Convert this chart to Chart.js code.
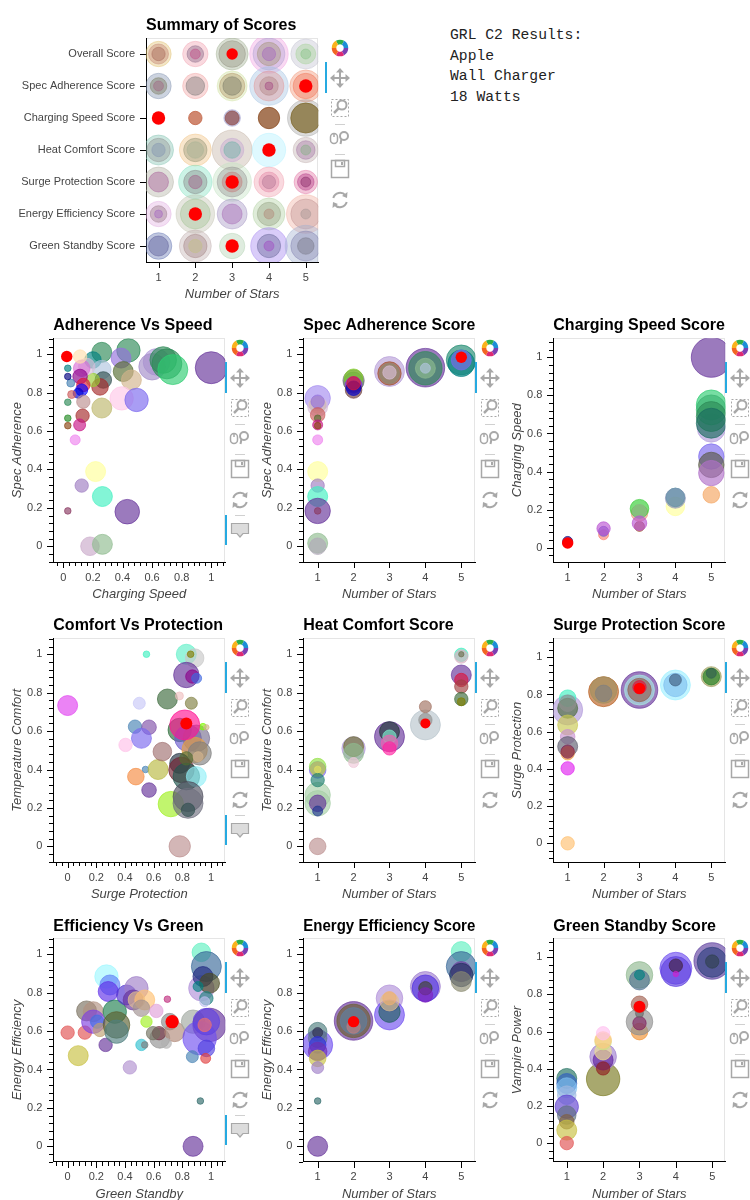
<!DOCTYPE html>
<html><head><meta charset="utf-8">
<script src="https://cdn.jsdelivr.net/npm/chart.js@4.4.1/dist/chart.umd.min.js"></script>
<style>
html,body{margin:0;padding:0;background:#fff;overflow:hidden;}
#page{position:relative;width:750px;height:1200px;overflow:hidden;background:#fff;}
#page canvas{position:absolute;}
#info{position:absolute;left:450px;top:25px;font-family:'Liberation Mono','DejaVu Sans Mono',monospace;font-size:14.7px;line-height:20.6px;color:#222;white-space:pre;}
</style></head><body><div id="page"><div id="info">GRL C2 Results:
Apple
Wall Charger
18 Watts</div></div>
<script>
// ---------------- DATA ----------------
const starTicks = [1, 2, 3, 4, 5];
const unitTicks = [0, 0.2, 0.4, 0.6, 0.8, 1];
const summaryCategories = ['Overall Score', 'Spec Adherence Score', 'Charging Speed Score', 'Heat Comfort Score', 'Surge Protection Score', 'Energy Efficiency Score', 'Green Standby Score'];

// Summary: [stars, category index, size]
const summaryPoints = [
[1,0,12.7],[1,0,10],[1,0,6.7],[2,0,12.7],[2,0,8.3],[2,0,5],[3,0,16],[3,0,13.3],[4,0,19.3],[4,0,16],[4,0,11.7],[4,0,6.7],[5,0,15],[5,0,10],[5,0,5],
[1,1,12.7],[1,1,8.3],[1,1,5],[2,1,12.7],[2,1,9.3],[3,1,15],[3,1,12.7],[3,1,9.3],[4,1,19.3],[4,1,15],[4,1,9.3],[4,1,4],[5,1,16],[5,1,12.7],
[2,2,6.7],[3,2,8.3],[3,2,7],[4,2,10.7],[5,2,18.3],[5,2,15],
[1,3,15],[1,3,11.7],[1,3,6.7],[2,3,16],[2,3,11.7],[2,3,8.3],[3,3,20],[3,3,11.7],[3,3,8.3],[4,3,16.7],[5,3,12.7],[5,3,9.3],[5,3,5],
[1,4,15],[1,4,10],[2,4,16.7],[2,4,11.7],[2,4,6.7],[3,4,19.3],[3,4,15],[3,4,10],[4,4,15],[4,4,10],[4,4,6.7],[5,4,11.7],[5,4,8.3],[5,4,5],
[1,5,12.7],[1,5,8.3],[1,5,4],[2,5,19.3],[2,5,15],[3,5,15],[3,5,10],[4,5,16],[4,5,11.7],[4,5,5],[5,5,19.3],[5,5,15],[5,5,5],
[1,6,13.3],[1,6,10],[2,6,16],[2,6,11.7],[2,6,6.7],[3,6,12.7],[4,6,18.3],[4,6,11.7],[4,6,5],[5,6,20.7],[5,6,15],[5,6,8.3]
];
const summaryColors = [
'#e0c070','#c08070','#a06050','#f0a0b0','#806080','#c04080','#a0b090','#909080','#f0a0e0','#b0a0d0','#a09070','#a060c0','#c0c0d0','#a0d090','#80c080',
'#8090b0','#707050','#a06080','#f0a0a0','#707070','#d0e0a0','#b09060','#707060','#a0c0e0','#e09090','#b08080','#a04080','#f09070','#f07050',
'#c06040c0','#8080c060','#905050c0','#8a4a20c0','#a0a0a060','#806a30c0',
'#80c0b0','#909090','#8090b0','#f0c080','#909070','#a0b090','#c0b0a0','#c0a0d0','#60b0a0','#b0f0ff','#c0b0b0','#a070a0','#80b080',
'#b0b0a0','#a05090','#80e0c0','#808080','#a05080','#c0e0c0','#909090','#c07070','#f0a0b0','#e080a0','#b07090','#e070a0','#b03080','#802060',
'#e0b0e0','#907080','#a060c0','#c0c0b0','#a0c090','#a090c0','#a060b0','#b0d0a0','#90a080','#b08070','#f0b0a0','#c09090','#a09090',
'#6070b0','#505090','#c0b0b0','#a08080','#c0c080','#b0d0b0','#a080f0','#606090','#a040c0','#a0b0d0','#8080b0','#707080'
];
const summaryHighlight = [[3,0,5.7],[5,1,6.7],[1,2,6.7],[4,3,6.7],[3,4,6.7],[2,5,6.7],[3,6,6.7]];

// Adherence vs Speed: [charging speed, spec adherence, size]
const avsPoints = [
[1.0,0.93,16],[0.63,0.96,13.3],[0.60,0.935,13.3],[0.675,0.97,13.3],[0.70,0.95,15],
[0.74,0.92,15],[0.44,1.02,11.7],[0.26,1.01,10],[0.20,0.97,8.3],[0.39,0.98,10],
[0.405,0.91,10],[0.46,0.866,10],[0.26,0.92,9.3],[0.27,0.866,8.3],[0.248,0.83,8.3],
[0.20,0.866,6.7],[0.394,0.77,11.7],[0.495,0.762,11.7],[0.26,0.72,10],[0.158,0.936,8.3],
[0.124,0.927,8.3],[0.113,0.988,6.7],[0.113,0.884,7.3],[0.135,0.84,6.7],[0.124,0.814,6],
[0.10,0.797,5],[0.135,0.753,6.7],[0.13,0.68,6.7],[0.11,0.632,6],[0.08,0.554,5],
[0.056,0.79,4],[0.05,0.85,4],[0.03,0.884,3.3],[0.03,0.927,3.3],[0.03,0.75,3.3],
[0.03,0.667,3.3],[0.03,0.628,3.3],[0.03,0.184,3.3],[0.218,0.389,10],[0.124,0.316,6.7],
[0.264,0.259,10],[0.432,0.18,12.3],[0.18,0,9.3],[0.264,0.01,10]
];
const avsColors = [
'#663399','#b39ddb','#a38cc8','#2e8b57','#2e8b57',
'#2ecc71','#2e8b57','#2e8b57','#008080','#9370db',
'#556b2f','#d2b48c','#b0c4de','#2f4f4f','#a52a2a',
'#9acd32','#ffc8e8','#7b68ee','#bdb76b','#d8bfd8',
'#da70d6','#ffdead','#8b008b','#dc143c','#0000ff',
'#0000cd','#bc8f8f','#a52a2a','#c71585','#ee82ee',
'#cd5c5c','#4682b4','#000080','#008080','#2e8b57',
'#228b22','#8b4513','#8b3a62','#ffff99','#9e7cc1',
'#40f0c0','#663399','#c9a9c9','#8fbc8f'
];
const avsHighlight = [[0.023,0.988,5.7]];

// Spec Adherence Score: [stars, spec adherence, size]
const specPoints = [
[1,0.771,12.7],[1,0.736,8.3],[1,0.727,10],[1,0.753,6.7],[1,0.684,7.3],
[1,0.667,3.3],[1,0.632,5],[1,0.628,3.3],[1,0.554,5],[1,0.389,10],
[1,0.316,6.7],[1,0.259,10],[1,0.184,12.7],[1,0.184,3.3],[1,0.016,10],
[1,0,8.3],[2,0.855,10],[2,0.863,10.7],[2,0.875,9.3],[2,0.84,8.3],
[2,0.814,8.3],[2,0.823,7.3],[2,0.849,6.7],[3,0.91,15],[3,0.9,11.7],
[3,0.9,10],[3,0.905,6.7],[4,0.93,19.3],[4,0.927,16.7],[4,0.927,10],
[4,0.927,5],[5,0.97,15],[5,0.953,13.3],[5,0.97,10]
];
const specColors = [
'#a58cf0','#bdb76b','#d8bfd8','#9370db','#cd5c5c',
'#556b2f','#c71585','#8b4513','#ee82ee','#ffff99',
'#9e7cc1','#40f0c0','#663399','#8b3a62','#8fbc8f',
'#b0a8b8','#2e8b57','#808080','#7ccd20','#8a2be2',
'#6b3a3a','#0000cd','#dc143c','#b9a0d9','#a0522d',
'#8a8a70','#d8bfd8','#663399','#2e8b57','#8fbc8f',
'#b0c4de','#1e8a70','#008080','#7b68ee'
];
const specHighlight = [[5,0.984,5.7]];

// Charging Speed Score: [stars, charging speed, size]
const chargePoints = [
[1,0.033,5],[2,0.068,5],[2,0.086,5],[2,0.101,6.7],[3,0.112,5],
[3,0.182,8.3],[3,0.205,9.3],[3,0.19,7],[3,0.129,7.3],[4,0.217,9.3],
[4,0.264,9.3],[4,0.26,10],[5,1,20],[5,0.628,14],[5,0.75,15],
[5,0.724,15],[5,0.689,15],[5,0.654,15],[5,0.479,12.7],[5,0.435,12.7],
[5,0.392,12.7],[5,0.278,8.3]
];
const chargeColors = [
'#000080','#fa8072','#6a5acd','#ba55d3','#a0522d',
'#e9967a','#32cd32','#8fbc8f','#ba55d3','#ffff99',
'#008080','#8c93b8','#663399','#b39ddb','#2ecc71',
'#3cb371','#2e8b57','#1a6b60','#7b68ee','#5a5a48',
'#b070c8','#f4a460'
];
const chargeHighlight = [[1,0.0245,5.7]];

// Comfort vs Protection: [surge protection, temperature comfort, size]
const cvpPoints = [
[0,0.733,10],[0.5,0.745,6],[0.55,1,3.3],[0.47,0.623,6.7],[0.568,0.62,7.3],
[0.515,0.5625,10],[0.404,0.528,6.7],[0.543,0.4,3.3],[0.476,0.363,8.3],[0.568,0.293,7.3],
[0.631,0.4,10],[0.72,0.22,12.7],[0.782,0,10.7],[0.696,0.767,10],[0.661,0.493,9.3],
[0.828,1,10],[0.886,0.98,9.3],[0.858,1,3.3],[0.828,0.892,12.7],[0.87,0.884,6.7],
[0.9,0.875,5],[0.863,0.745,6],[0.78,0.783,4],[0.782,0.606,11.7],[0.84,0.5625,13.3],
[0.898,0.5625,13.3],[0.886,0.502,12.7],[0.921,0.484,11.7],[0.782,0.432,10],[0.794,0.398,12.7],
[0.828,0.363,13.3],[0.898,0.363,10],[0.84,0.259,15],[0.84,0.224,15],[0.84,0.19,6.7],
[0.944,0.623,3.3],[0.968,0.62,2.7],[0.828,0.458,6.7],[0.91,0.467,5],[0.817,0.632,15]
];
const cvpColors = [
'#e040f0','#c8c8f8','#40f0c0','#4682b4','#8050a8',
'#7b68ee','#ffc0e8','#4682b4','#f48a40','#663399',
'#b8b840','#a0f020','#bc8f8f','#3c6a3c','#a07070',
'#60f0c8','#c8c8c8','#808000','#663399','#8b008b',
'#4169e1','#808040','#f0c0c0','#2e6b3a','#6a5acd',
'#7a7090','#e8a040','#808080','#203040','#702030',
'#205850','#90f0f8','#505060','#707080','#2f4f4f',
'#7cfc00','#d2b48c','#556b2f','#d2b48c','#ff1493'
];
const cvpHighlight = [[0.828,0.64,6]];

// Heat Comfort Score: [stars, temperature comfort, size]
const heatPoints = [
[1,0.267,12.7],[1,0.224,12.7],[1,0.398,8.3],[1,0.415,8.3],[1,0.401,7.3],
[1,0.345,6.7],[1,0.224,8.3],[1,0.184,5],[1,0.4,3.3],[1,0,8.3],
[2,0.51,11.7],[2,0.519,10],[2,0.484,10],[2,0.436,5],[3,0.571,15],
[3,0.597,10],[3,0.571,6.7],[3,0.536,8.3],[3,0.51,6.7],[4,0.632,15],
[4,0.727,6],[4,0.658,6.7],[5,0.997,6.7],[5,0.988,6.7],[5,0.892,10],
[5,0.866,6.7],[5,0.832,6.7],[5,0.767,6.7],[5,0.753,4],[5,1,2.7]
];
const heatColors = [
'#a8d0a8','#a8d0a8','#7b68ee','#90e040','#bdb76b',
'#208070','#663399','#203890','#e0e060','#bc8f8f',
'#b39ddb','#6b6b30','#8fbc8f','#f0c8d8','#663399',
'#203838','#80f0d0','#f060b0','#ff20a0','#b8c4cc',
'#a07060','#909090','#40f0c0','#d8b0c0','#663399',
'#dc143c','#a04040','#3a6a3a','#808000','#707050'
];
const heatHighlight = [[4,0.64,5]];

// Surge Protection Score: [stars, surge protection, size]
const surgePoints = [
[1,0.717,15],[1,0.78,8.3],[1,0.726,10],[1,0.753,8.3],[1,0.636,10],
[1,0.573,7.3],[1,0.52,10],[1,0.484,6.7],[1,0.493,6.7],[1,0.403,6.7],
[1,0,6.7],[2,0.815,15],[2,0.824,13.3],[2,0.806,8.3],[3,0.824,18.3],
[3,0.824,15],[3,0.824,11.7],[3,0.839,6.7],[4,0.851,15],[4,0.851,11.7],
[4,0.878,6],[5,0.896,10],[5,0.896,8.3],[5,0.914,5]
];
const surgeColors = [
'#b39ddb','#40f0c0','#4a6a3a','#909090','#c8c850',
'#c890d0','#606070','#f0a040','#802050','#e020f0',
'#ffc070','#b86020','#a09060','#808080','#663399',
'#a8e8e0','#906050','#dc143c','#a0f0ff','#80c0f0',
'#406080','#a0a060','#208020','#306050'
];
const surgeHighlight = [[3,0.833,5.7]];

// Efficiency vs Green: [green standby, energy efficiency, size]
const evgPoints = [
[0,0.592,6.7],[0.12,0.592,6.7],[0.074,0.472,10],[0.132,0.705,10],[0.179,0.701,10],
[0.179,0.649,11.7],[0.206,0.649,6.7],[0.225,0.606,6.7],[0.265,0.528,6.7],[0.271,0.884,11.7],
[0.295,0.84,10],[0.283,0.806,10],[0.329,0.701,11.7],[0.341,0.632,13.3],[0.341,0.597,11.7],
[0.411,0.788,10],[0.48,0.823,11.7],[0.457,0.762,10],[0.48,0.762,8.3],[0.538,0.762,10],
[0.515,0.719,8.3],[0.619,0.705,6.7],[0.55,0.649,5.7],[0.515,0.528,5.7],[0.538,0.528,3.3],
[0.434,0.411,6.7],[0.696,0.766,3.3],[0.643,0.563,10],[0.638,0.589,6.7],[0.596,0.589,6.7],
[0.712,0.649,8.3],[0.747,0.597,10],[0.689,0.536,5],[0.933,1.01,9.3],[0.933,0.823,12.7],
[0.968,0.936,15],[0.944,0.884,10],[0.99,0.849,10],[0.91,0.832,5],[0.968,0.771,6.7],
[0.956,0.753,5],[0.875,0.649,11.7],[0.99,0.632,16.7],[0.921,0.563,16.7],[0.968,0.649,13.3],
[0.956,0.632,6.7],[0.968,0.51,8.3],[0.87,0.467,6],[0.963,0.458,5],[0.926,0.236,3.3],
[0.875,0,10]
];
const evgColors = [
'#e05050','#e05050','#c8c040','#7a7060','#b09080',
'#8040e0','#4070e0','#c0a070','#663399','#a0f8ff',
'#6080f8','#6030e8','#208050','#5a6030','#508080',
'#5030d0','#a080c8','#663399','#e0c090','#ffc070',
'#a09090','#e0a0d8','#a0f020','#30c0d0','#808080',
'#b090d0','#c03080','#909090','#703040','#707060',
'#8a8a8a','#b08878','#b0b0b0','#60f0c0','#b090d8',
'#3a6a9a','#202880','#4a4a20','#008080','#208080',
'#c0c0f0','#a0a8a0','#663399','#7050f0','#6040e0',
'#f07070','#5040e0','#4682b4','#e04040','#306a6a',
'#663399'
];
const evgHighlight = [[0.729,0.649,6.7]];

// Energy Efficiency Score: [stars, energy efficiency, size]
const energyPoints = [
[1,0.528,15],[1,0.597,9.3],[1,0.5625,9.3],[1,0.592,5],[1,0.528,8.3],
[1,0.493,9.3],[1,0.458,8.3],[1,0.41,6],[1,0.236,3.3],[1,0,10],
[2,0.653,19.3],[2,0.653,16.7],[2,0.653,13.3],[2,0.623,6.7],[3,0.771,13.3],
[3,0.684,15],[3,0.701,10.7],[3,0.753,9.3],[3,0.771,6.7],[4,0.832,15],
[4,0.823,13.3],[4,0.823,6.7],[4,0.788,7.3],[5,1.014,10],[5,0.936,15],
[5,0.91,10],[5,0.892,11.7],[5,0.858,10]
];
const energyColors = [
'#7050f0','#508080','#607090','#303050','#3030e0',
'#7030b0','#c8c040','#a080c8','#306a6a','#663399',
'#663399','#6a6030','#6080a0','#c08080','#b090d8',
'#7050f0','#206060','#e0c090','#f0b070','#a080d0',
'#5030e0','#404030','#8020c0','#60f0c0','#3a6a9a',
'#7040a0','#203060','#8a8a70'
];
const energyHighlight = [[2,0.649,5.7]];

// Green Standby Score: [stars, vampire power, size]
const greenPoints = [
[1,0.348,10],[1,0.321,10],[1,0.298,10],[1,0.258,9.3],[1,0.196,11.7],
[1,0.151,9.3],[1,0.115,7.3],[1,0.07,10],[1,0,6.7],[2,0.345,16.7],
[2,0.465,13.3],[2,0.447,10],[2,0.402,6.7],[2,0.492,8.3],[2,0.546,8.3],
[2,0.555,8.3],[2,0.591,6.7],[3,0.905,13.3],[3,0.878,10],[3,0.905,5],
[3,0.6,8.3],[3,0.653,13.3],[3,0.645,6.7],[3,0.698,4],[3,0.747,8.3],
[4,0.941,16],[4,0.923,15],[4,0.955,6.7],[4,0.91,2.7],[5,0.98,18.3],
[5,0.973,15],[5,0.977,6.7]
];
const greenColors = [
'#207060','#3060c0','#80c0f0','#a0b8e0','#6040d0',
'#607080','#806040','#c8c040','#e05050','#7a7a20',
'#a080d0','#6020a0','#902020','#f0e090','#d0e080',
'#ffc880','#ffc0f0','#90b890','#507090','#008080',
'#f09030','#909090','#802060','#696969','#a06050',
'#7050f0','#6040e0','#402040','#d020d0','#6040a0',
'#304080','#304050'
];
const greenHighlight = [[3,0.734,6]];

// ---------------- RENDERING ----------------
const FONT = "'Liberation Sans', Arial, Helvetica, sans-serif";
const page = document.getElementById('page');

function withAlpha(c, a) {
  if (c.length === 9) return c;
  const r = parseInt(c.slice(1, 3), 16), g = parseInt(c.slice(3, 5), 16), b = parseInt(c.slice(5, 7), 16);
  return `rgba(${r},${g},${b},${a})`;
}
function fmt(v) { return Number.isInteger(v) ? String(v) : String(+v.toFixed(2)); }
function minorTicks(major, min, max) {
  const step = (major[1] - major[0]) / 5, out = [];
  const start = Math.ceil((min - major[0]) / step - 1e-9);
  for (let k = start; major[0] + k * step <= max + 1e-9; k++) {
    if (Math.abs(k % 5) !== 0) out.push(major[0] + k * step);
  }
  return out;
}

const frame = {
  id: 'frame',
  beforeDraw(chart) {
    const {ctx, chartArea: a} = chart;
    ctx.save(); ctx.strokeStyle = '#e5e5e5'; ctx.lineWidth = 1;
    ctx.strokeRect(Math.round(a.left) + 0.5, Math.round(a.top) + 0.5, Math.round(a.right - a.left) - 1, Math.round(a.bottom - a.top));
    ctx.restore();
  }
};
const axisTicks = {
  id: 'axisTicks',
  afterDraw(chart, args, o) {
    const {ctx, chartArea: a, scales} = chart;
    const xs = scales.x, ys = scales.y;
    const X = v => Math.round(xs.getPixelForValue(v)) + 0.5;
    const Y = v => Math.round(ys.getPixelForValue(v)) + 0.5;
    const b = Math.round(a.bottom), l = Math.round(a.left);
    ctx.save(); ctx.strokeStyle = '#000'; ctx.lineWidth = 1; ctx.beginPath();
    xs.ticks.forEach(t => { const p = X(t.value); ctx.moveTo(p, b); ctx.lineTo(p, b + 6); });
    (o.xMinor || []).forEach(v => { const p = X(v); ctx.moveTo(p, b); ctx.lineTo(p, b + 4); });
    ys.ticks.forEach(t => { const p = Y(t.value); ctx.moveTo(l, p); ctx.lineTo(l - 6, p); });
    (o.yMinor || []).forEach(v => { const p = Y(v); ctx.moveTo(l, p); ctx.lineTo(l - 4, p); });
    ctx.stroke(); ctx.restore();
  }
};

function toolbar(cx, top, barX, hover) {
  const g = '#a8a8a8', sep = '#d0d0d0';
  const logoColors = ['#2eb04b', '#1c8fd6', '#7b3fb3', '#de2a74', '#f26522', '#f9b21c'];
  let h = '';
  for (let i = 0; i < 6; i++) {
    const a0 = (i * 60 - 120) * Math.PI / 180, a1 = ((i + 1) * 60 - 120) * Math.PI / 180, r = 6;
    h += `<path d="M${15 + r * Math.cos(a0)} ${10 + r * Math.sin(a0)} A${r} ${r} 0 0 1 ${15 + r * Math.cos(a1)} ${10 + r * Math.sin(a1)}" stroke="${logoColors[i]}" stroke-width="4.5" fill="none"/>`;
  }
  h += `<path d="M15 32 V48 M7 40 H23" stroke="${g}" stroke-width="2" fill="none"/>`;
  h += `<path d="M15 30 l-4 4.5 h8z M15 50 l-4 -4.5 h8z M5 40 l4.5 -4 v8z M25 40 l-4.5 -4 v8z" fill="${g}"/>`;
  h += `<rect x="6.5" y="61.5" width="17" height="17" stroke="${g}" stroke-dasharray="2 2" fill="none"/>`;
  h += `<circle cx="17" cy="67" r="4.5" stroke="${g}" stroke-width="2" fill="none"/><path d="M13.8 70.2 L9 75" stroke="${g}" stroke-width="2.5"/>`;
  h += `<path d="M10 86.5 H20" stroke="${sep}"/>`;
  h += `<rect x="5.5" y="95.5" width="7" height="10" rx="3.5" stroke="${g}" stroke-width="1.5" fill="none"/><path d="M9 96 V99" stroke="${g}" stroke-width="1.5"/>`;
  h += `<circle cx="19" cy="98" r="4" stroke="${g}" stroke-width="2" fill="none"/><path d="M16.5 101 L15.5 106" stroke="${g}" stroke-width="2"/>`;
  h += `<path d="M10 116.5 H20" stroke="${sep}"/>`;
  h += `<rect x="6.5" y="122.5" width="17" height="17" stroke="${g}" stroke-width="1.5" fill="none"/><rect x="10.5" y="122.5" width="9" height="6" stroke="${g}" stroke-width="1.5" fill="none"/><rect x="16" y="124" width="2" height="3" fill="${g}"/>`;
  h += `<path d="M8.3 160 A7 7 0 0 1 20.5 157.5" stroke="${g}" stroke-width="2" fill="none"/><path d="M22.5 154 L22 160 L17 158z" fill="${g}"/>`;
  h += `<path d="M21.7 164 A7 7 0 0 1 9.5 166.5" stroke="${g}" stroke-width="2" fill="none"/><path d="M7.5 170 L8 164 L13 166z" fill="${g}"/>`;
  if (hover) {
    h += `<path d="M10 177.5 H20" stroke="${sep}"/>`;
    h += `<path d="M6.5 185.5 h17 v10 h-5.5 l-3 3.5 l-3 -3.5 h-5.5z" fill="#dcdcdc" stroke="${g}" stroke-width="1.2"/>`;
  }
  const s = document.createElementNS('http://www.w3.org/2000/svg', 'svg');
  s.setAttribute('width', '30'); s.setAttribute('height', '215');
  s.style.cssText = `position:absolute;left:${cx - 15}px;top:${top}px;overflow:visible`;
  s.innerHTML = h;
  page.appendChild(s);
  const bars = [[24, 31]];
  if (hover) bars.push([177, 30]);
  bars.forEach(([o, len]) => {
    const d = document.createElement('div');
    d.style.cssText = `position:absolute;left:${barX}px;top:${top + o}px;width:2px;height:${len}px;background:#26aae1`;
    page.appendChild(d);
  });
}

function panel(p) {
  const c = document.createElement('canvas');
  c.width = p.width; c.height = p.height;
  c.style.left = p.left + 'px'; c.style.top = p.top + 'px';
  c.style.width = p.width + 'px'; c.style.height = p.height + 'px';
  page.appendChild(c);
  const titleBlock = p.plotTop - p.top;
  const datasets = [{
    data: p.points.map(([x, y, s]) => ({x, y, r: s})),
    backgroundColor: p.colors.map(col => withAlpha(col, p.alpha)),
    borderColor: p.colors.map(col => withAlpha(col, p.alpha)),
    borderWidth: 1, order: 1, clip: 0
  }, {
    data: p.highlight.map(([x, y, s]) => ({x, y, r: s})),
    backgroundColor: '#ff0000', borderColor: '#ff0000', borderWidth: 0, order: 0, clip: 0
  }];
  const tickFont = {family: FONT, size: 11};
  const axisTitleFont = {family: FONT, size: 13, style: 'italic'};
  new Chart(c, {
    type: 'bubble',
    data: {datasets},
    plugins: [frame, axisTicks],
    options: {
      responsive: false, animation: false, events: [],
      layout: {padding: {left: 0, top: 0, bottom: 0, right: p.width - (p.plotRight - p.left)}},
      plugins: {
        legend: {display: false}, tooltip: {enabled: false},
        title: {display: true, text: p.title, align: 'start', fullSize: false, color: '#000',
          font: {family: FONT, size: 16, weight: 'bold'},
          padding: {top: p.tPad, bottom: Math.max(0, titleBlock - 19.2 - p.tPad)}},
        axisTicks: {
          xMinor: p.xMinor ? minorTicks(p.xTicks, p.xMin, p.xMax) : [],
          yMinor: p.yMinor ? minorTicks(p.yTicks, p.yMin, p.yMax) : []
        }
      },
      scales: {
        x: {
          type: 'linear', min: p.xMin, max: p.xMax, bounds: 'data',
          afterBuildTicks: s => { s.ticks = p.xTicks.map(v => ({value: v})); },
          afterFit: s => { s.height = p.top + p.height - p.plotBottom; },
          grid: {display: false, drawTicks: false},
          border: {display: true, color: '#000', width: 1},
          ticks: {padding: 9, color: '#444', font: tickFont, maxRotation: 0, autoSkip: false, callback: v => fmt(v)},
          title: {display: true, text: p.xTitle, color: '#444', font: axisTitleFont, padding: {top: 0, bottom: p.xtPad}}
        },
        y: {
          type: 'linear', min: p.yMin, max: p.yMax, reverse: !!p.reverse, bounds: 'data',
          afterBuildTicks: s => { s.ticks = p.yTicks.map(v => ({value: v})); },
          afterFit: s => { s.width = p.plotLeft - p.left; },
          grid: {display: false, drawTicks: false},
          border: {display: true, color: '#000', width: 1},
          ticks: {padding: 11, color: '#444', font: tickFont, autoSkip: false,
            callback: v => p.yLabels ? p.yLabels[Math.round(v)] : fmt(v)},
          title: {display: !!p.yTitle, text: p.yTitle || '', color: '#444', font: axisTitleFont, padding: {top: 9.3, bottom: 0}}
        }
      }
    }
  });
  toolbar(p.toolX, p.plotTop, p.plotRight, p.hover);
}

const rows = [
  {top: 305, height: 300, plotTop: 338.3, plotBottom: 562, tPad: 11.2, xtPad: 3.3},
  {top: 605, height: 300, plotTop: 638.3, plotBottom: 862.3, tPad: 11.2, xtPad: 2.6},
  {top: 905, height: 297, plotTop: 938.3, plotBottom: 1161.7, tPad: 12.2, xtPad: 0.3}
];
function grid(col, row, cfg) {
  const r = rows[row], left = col * 250;
  return Object.assign({
    left, width: 250, plotLeft: left + 53.3, plotRight: left + 225.3, toolX: left + 240,
    top: r.top, height: r.height, plotTop: r.plotTop, plotBottom: r.plotBottom, tPad: r.tPad, xtPad: r.xtPad,
    alpha: 0.65, hover: col === 0, yTicks: unitTicks, yMinor: true
  }, cfg);
}

const categoryTicks = summaryCategories.map((_, i) => i);
const panels = [
  {left: 0, top: 0, width: 340, height: 305, plotLeft: 146, plotRight: 325, plotTop: 38, plotBottom: 262, tPad: 15.7, xtPad: 2.8, toolX: 340,
   title: 'Summary of Scores', xTitle: 'Number of Stars', yTitle: null, xMin: 0.66, xMax: 5.34, yMin: -0.5, yMax: 6.5, reverse: true,
   xTicks: starTicks, yTicks: categoryTicks, yLabels: summaryCategories, points: summaryPoints, colors: summaryColors, alpha: 0.4,
   highlight: summaryHighlight, xMinor: false, yMinor: false, hover: false},
  grid(0, 0, {title: 'Adherence Vs Speed', xTitle: 'Charging Speed', yTitle: 'Spec Adherence', xMin: -0.068, xMax: 1.095, yMin: -0.082, yMax: 1.083,
   xTicks: unitTicks, xMinor: true, points: avsPoints, colors: avsColors, highlight: avsHighlight}),
  grid(1, 0, {title: 'Spec Adherence Score', xTitle: 'Number of Stars', yTitle: 'Spec Adherence', xMin: 0.6, xMax: 5.39, yMin: -0.082, yMax: 1.083,
   xTicks: starTicks, xMinor: false, points: specPoints, colors: specColors, highlight: specHighlight}),
  grid(2, 0, {title: 'Charging Speed Score', xTitle: 'Number of Stars', yTitle: 'Charging Speed', xMin: 0.6, xMax: 5.39, yMin: -0.075, yMax: 1.1,
   xTicks: starTicks, xMinor: false, points: chargePoints, colors: chargeColors, highlight: chargeHighlight}),
  grid(0, 1, {title: 'Comfort Vs Protection', xTitle: 'Surge Protection', yTitle: 'Temperature Comfort', xMin: -0.1, xMax: 1.1, yMin: -0.083, yMax: 1.083,
   xTicks: unitTicks, xMinor: true, points: cvpPoints, colors: cvpColors, highlight: cvpHighlight}),
  grid(1, 1, {title: 'Heat Comfort Score', xTitle: 'Number of Stars', yTitle: 'Temperature Comfort', xMin: 0.6, xMax: 5.39, yMin: -0.083, yMax: 1.083,
   xTicks: starTicks, xMinor: false, points: heatPoints, colors: heatColors, highlight: heatHighlight}),
  grid(2, 1, {title: 'Surge Protection Score', xTitle: 'Number of Stars', yTitle: 'Surge Protection', xMin: 0.6, xMax: 5.39, yMin: -0.102, yMax: 1.102,
   xTicks: starTicks, xMinor: false, points: surgePoints, colors: surgeColors, highlight: surgeHighlight}),
  grid(0, 2, {title: 'Efficiency Vs Green', xTitle: 'Green Standby', yTitle: 'Energy Efficiency', xMin: -0.1, xMax: 1.1, yMin: -0.08, yMax: 1.083,
   xTicks: unitTicks, xMinor: true, points: evgPoints, colors: evgColors, highlight: evgHighlight}),
  grid(1, 2, {title: 'Energy Efficiency Score', xTitle: 'Number of Stars', yTitle: 'Energy Efficiency', xMin: 0.6, xMax: 5.39, yMin: -0.08, yMax: 1.083,
   xTicks: starTicks, xMinor: false, points: energyPoints, colors: energyColors, highlight: energyHighlight}),
  grid(2, 2, {title: 'Green Standby Score', xTitle: 'Number of Stars', yTitle: 'Vampire Power', xMin: 0.63, xMax: 5.36, yMin: -0.1, yMax: 1.102,
   xTicks: starTicks, xMinor: false, points: greenPoints, colors: greenColors, highlight: greenHighlight})
];
panels.forEach(panel);
</script></body></html>
